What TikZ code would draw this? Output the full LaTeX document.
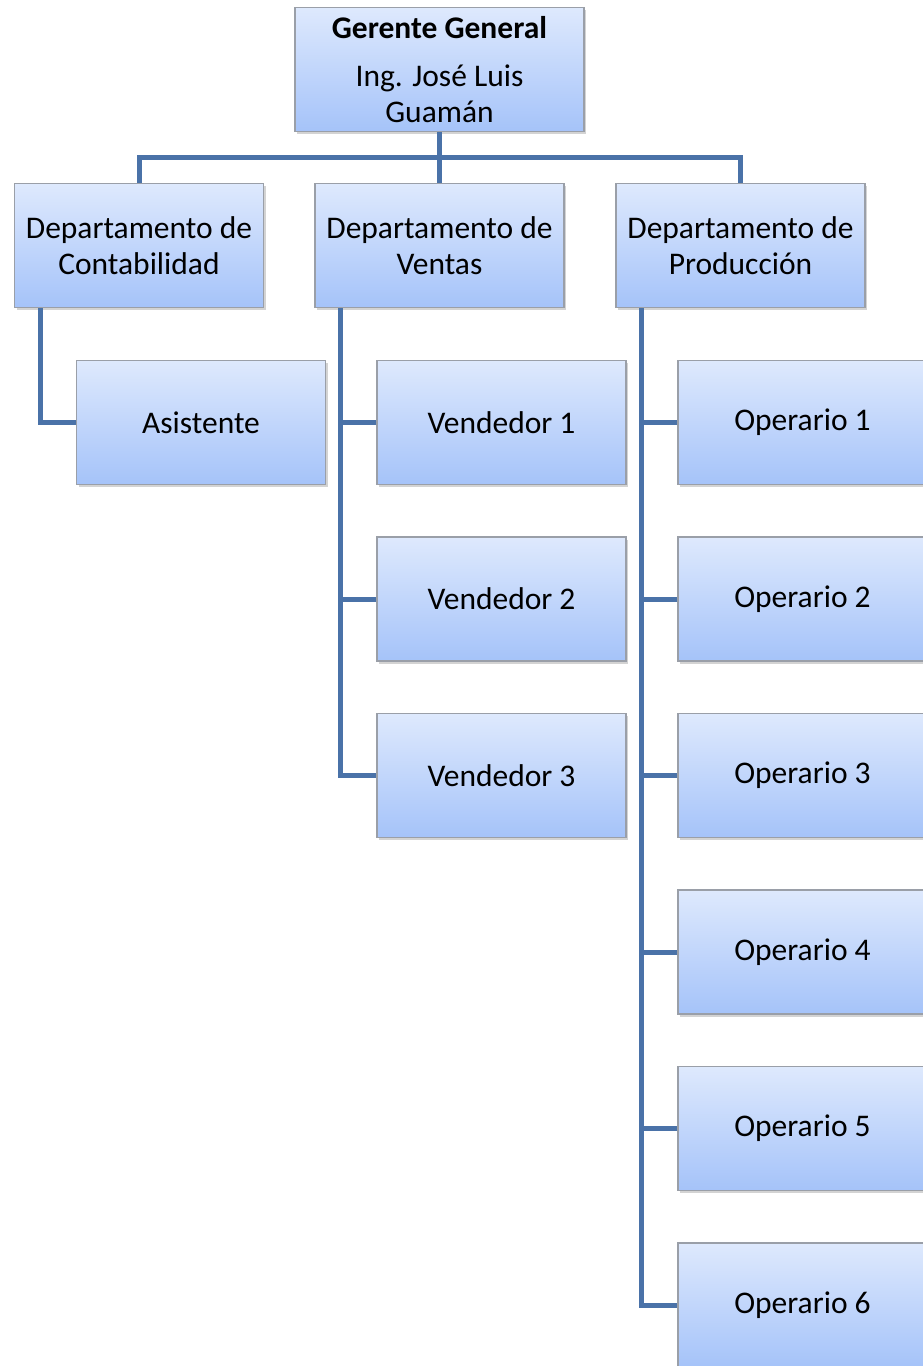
\documentclass[tikz,border=0pt]{standalone}
\usepackage{fontspec}
\setmainfont{Carlito}
\usetikzlibrary{shadows}
\definecolor{cajaarriba}{HTML}{DEE9FD}
\definecolor{cajaabajo}{HTML}{A5C3F9}
\definecolor{cajaborde}{HTML}{9A9FA8}
\definecolor{enlace}{HTML}{4A72A8}
\tikzset{
  caja/.style={draw=cajaborde, line width=1.2pt, top color=cajaarriba, bottom color=cajaabajo,
    minimum width=249, minimum height=124, inner sep=0pt, align=center,
    font=\fontsize{31.5}{36}\selectfont,
    drop shadow={shadow xshift=2pt, shadow yshift=-2.5pt, opacity=0.35}},
  enlace/.style={draw=enlace, line width=5pt, line join=miter}
}
\begin{document}
\begin{tikzpicture}[x=1pt, y=-1pt]
  \useasboundingbox (0,0) rectangle (922,1366);
  % jefatura
  \node [caja, minimum width=289] (gerente) at (439.5,69.5)
    {\textbf{Gerente General}\\[12pt]Ing. José Luis\\Guamán};
  % departamentos
  \node [caja] (conta) at (139,245.5) {Departamento de\\Contabilidad};
  \node [caja] (ventas) at (439.5,245.5) {Departamento de\\Ventas};
  \node [caja] (prod) at (740.5,245.5) {Departamento de\\Producción};
  % personal
  \node [caja] (asis) at (201,422.5) {Asistente};
  \node [caja] (v1) at (501.5,422.5) {Vendedor 1};
  \node [caja] (v2) at (501.5,599) {Vendedor 2};
  \node [caja] (v3) at (501.5,775.5) {Vendedor 3};
  \node [caja] (o1) at (802.5,422.5) {Operario 1};
  \node [caja] (o2) at (802.5,599) {Operario 2};
  \node [caja] (o3) at (802.5,775.5) {Operario 3};
  \node [caja] (o4) at (802.5,952) {Operario 4};
  \node [caja] (o5) at (802.5,1128.5) {Operario 5};
  \node [caja] (o6) at (802.5,1305) {Operario 6};
  % lineas
  \coordinate (bus) at (439.5,157);
  \coordinate (ejeC) at ([xshift=-99pt]conta.south);
  \coordinate (ejeV) at ([xshift=-99.5pt]ventas.south);
  \coordinate (ejeP) at ([xshift=-99.5pt]prod.south);
  \draw [enlace] (conta.north) |- (bus) -| (prod.north);
  \draw [enlace] (gerente.south) -- (ventas.north);
  \draw [enlace] (ejeC) |- (asis.west);
  \draw [enlace] (ejeV) |- (v3.west);
  \foreach \n in {v1,v2}
    \draw [enlace] (\n.west) -- (\n.west -| ejeV);
  \draw [enlace] (ejeP) |- (o6.west);
  \foreach \n in {o1,o2,o3,o4,o5}
    \draw [enlace] (\n.west) -- (\n.west -| ejeP);
\end{tikzpicture}
\end{document}
